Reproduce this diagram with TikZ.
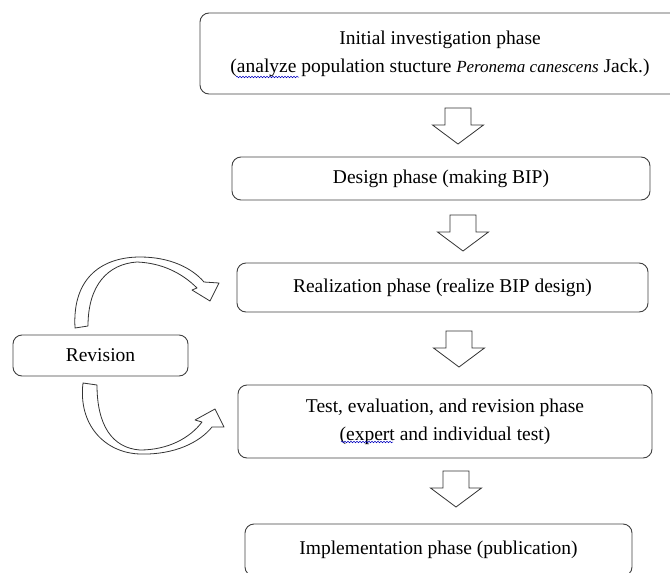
\documentclass[tikz,border=0pt]{standalone}
\usepackage{fontspec}
\setmainfont{Liberation Serif}
\usetikzlibrary{decorations.pathmorphing}
\tikzset{
  box/.style={draw=black!75, line width=0.9pt, rounded corners=9pt, align=center,
    font=\fontsize{19.5}{28}\selectfont, inner sep=0pt},
  blockarrow/.style={draw=black!80, line width=0.8pt, fill=white, line join=miter},
  spell/.style={draw=blue!75!black, line width=0.5pt, decorate, decoration={snake, amplitude=0.8pt, segment length=3pt}},
  downblock/.pic={\draw[blockarrow] (-13,0) -- (13,0) -- (13,17) -- (25.5,17) -- (0,36) -- (-25.5,17) -- (-13,17) -- cycle;}
}
\begin{document}
\begin{tikzpicture}[x=1pt,y=-1pt]
\useasboundingbox (0,0) rectangle (670,573);
\node[box, minimum width=480, minimum height=81] (init) at (440,53.5)
  {Initial investigation phase\\(analyze population stucture {\itshape\fontsize{17}{28}\selectfont Peronema canescens} Jack.)};
\node[box, minimum width=418, minimum height=43] (design) at (441,178.5) {Design phase (making BIP)};
\node[box, minimum width=411, minimum height=49] (real) at (442.5,287.5) {Realization phase (realize BIP design)};
\node[box, minimum width=414, minimum height=73] (test) at (445,421.5)
  {Test, evaluation, and revision phase\\(expert and individual test)};
\node[box, minimum width=387, minimum height=52] (impl) at (438.5,550) {Implementation phase (publication)};
\node[box, minimum width=175, minimum height=41] (rev) at (100.5,355.5) {Revision};

% spell-check wavy underlines
\coordinate (w1a) at (236,77); \coordinate (w1b) at (299,77);
\coordinate (w2a) at (341,442); \coordinate (w2b) at (393,442);
\draw[spell] (w1a) -- (w1b);
\draw[spell] (w2a) -- (w2b);

\pic (a1) at (458,108) {downblock};
\pic (a2) at (463,215) {downblock};
\pic (a3) at (459,331) {downblock};
\pic (a4) at (456,471) {downblock};

% curved arrow to realization
\draw[blockarrow, line join=round] (75,328) .. controls (72,275) and (105,257) .. (140,257)
  .. controls (170,257) and (192,268) .. (204,282) -- (219,283) -- (210,301) -- (192,290) -- (197,288)
  .. controls (182,273) and (162,263) .. (137,262) .. controls (108,264) and (88,285) .. (88,326) -- cycle;
% curved arrow to test
\draw[blockarrow, line join=round] (83,383) .. controls (78,425) and (105,453) .. (140,454)
  .. controls (175,455) and (200,442) .. (212,427) -- (224,427) -- (215,409) -- (195,420) -- (202,422)
  .. controls (190,438) and (168,450) .. (140,450) .. controls (112,448) and (97,425) .. (97,385) -- cycle;
\end{tikzpicture}
\end{document}
